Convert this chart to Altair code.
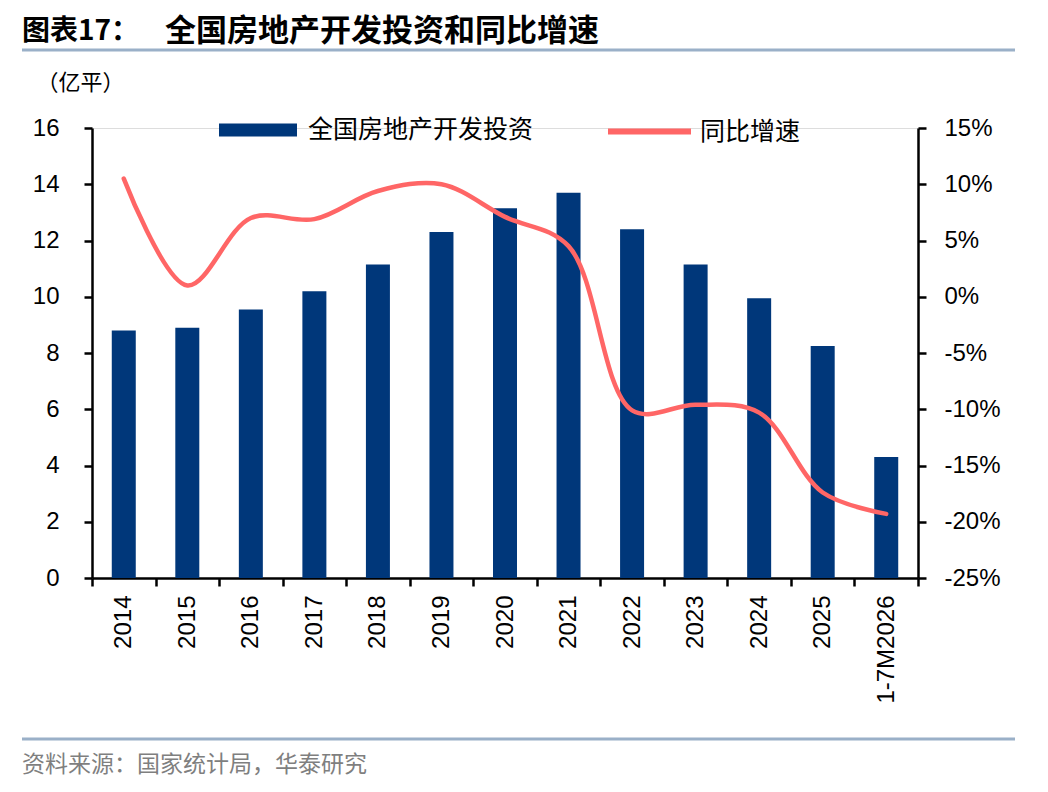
import altair as alt
import pandas as pd

categories = ["2014", "2015", "2016", "2017", "2018", "2019", "2020",
              "2021", "2022", "2023", "2024", "2025", "1-7M2026"]
investment = [8.8, 8.9, 9.55, 10.2, 11.15, 12.3, 13.15, 13.7, 12.4, 11.15, 9.95, 8.25, 4.3]
growth = [10.5, 1.0, 7.0, 6.9, 9.4, 10.0, 7.1, 4.5, -10.1, -9.6, -10.3, -17.4, -19.3]
bar_name = "全国房地产开发投资"
line_name = "同比增速"
left_ticks = [0, 2, 4, 6, 8, 10, 12, 14, 16]
right_ticks = [-25, -20, -15, -10, -5, 0, 5, 10, 15]

NAVY = "#00377A"
RED = "#FF6666"
CJK = "Noto Sans CJK SC"
LAT = "Liberation Sans"

bars_df = pd.DataFrame({"cat": categories, "val": investment, "series": bar_name})
line_df = pd.DataFrame({"cat": categories, "val": growth, "series": line_name})

x_enc = alt.X(
    "cat:N", sort=categories,
    scale=alt.Scale(paddingInner=0, paddingOuter=0),
    axis=alt.Axis(title=None, labelAngle=270, tickBand="extent", tickSize=8,
                  labelPadding=9, labelFont=LAT, labelFontSize=24,
                  labelColor="black", domainColor="black", tickColor="black",
                  domainWidth=2.5, tickWidth=2.5, grid=False),
)

bars = alt.Chart(bars_df).mark_bar(size=24).encode(
    x=x_enc,
    y=alt.Y("val:Q", scale=alt.Scale(domain=[0, 16], nice=False),
            axis=alt.Axis(title="（亿平）", titleAngle=0, titleX=-56, titleY=-46,
                          titleAlign="left", titleBaseline="middle", titleFont=CJK,
                          titleFontSize=22, titleFontWeight="normal", titleColor="black",
                          values=left_ticks, grid=False, tickSize=8, labelPadding=25,
                          labelFont=LAT, labelFontSize=24, labelColor="black",
                          domainColor="black", tickColor="black",
                          domainWidth=2.5, tickWidth=2.5)),
    color=alt.Color("series:N", scale=alt.Scale(domain=[bar_name], range=[NAVY]),
                    legend=alt.Legend(orient="none", legendX=127, legendY=-37, title=None,
                                      symbolType="M-1,-0.167L1,-0.167L1,0.167L-1,0.167Z",
                                      symbolSize=6084, symbolStrokeWidth=0,
                                      labelFont=CJK, labelFontSize=25, labelColor="black",
                                      labelOffset=11, labelLimit=600, padding=0)),
)

line = alt.Chart(line_df).mark_line(strokeWidth=4.5, interpolate="catmull-rom",
                                    strokeCap="round").encode(
    x=x_enc,
    y=alt.Y("val:Q", scale=alt.Scale(domain=[-25, 15], nice=False),
            axis=alt.Axis(title=None, orient="right", values=right_ticks, grid=False,
                          labelExpr="datum.value + '%'", tickSize=8, labelPadding=18,
                          labelFont=LAT, labelFontSize=24, labelColor="black",
                          domainColor="black", tickColor="black",
                          domainWidth=2.5, tickWidth=2.5)),
    color=alt.Color("series:N", scale=alt.Scale(domain=[line_name], range=[RED]),
                    legend=alt.Legend(orient="none", legendX=513, legendY=-41, title=None,
                                      symbolType="stroke", symbolSize=6889,
                                      symbolStrokeWidth=6,
                                      labelFont=CJK, labelFontSize=25, labelColor="black",
                                      labelOffset=6, labelLimit=600, padding=0)),
)

one = alt.Data(values=[{"k": 1}])

title1 = alt.Chart(one).mark_text(text="图表17：", font=CJK, fontSize=28, fontWeight="bold",
                                  align="left", baseline="middle", color="black").encode(
    x=alt.value(-70), y=alt.value(-96))
title2 = alt.Chart(one).mark_text(text="全国房地产开发投资和同比增速", font=CJK, fontSize=31,
                                  fontWeight="bold", align="left", baseline="middle",
                                  color="black").encode(
    x=alt.value(73), y=alt.value(-96))
source = alt.Chart(one).mark_text(text="资料来源：国家统计局，华泰研究", font=CJK, fontSize=23,
                                  align="left", baseline="middle", color="#7F7F7F").encode(
    x=alt.value(-70), y=alt.value(637))
rule_top = alt.Chart(one).mark_rule(color="#9AB0C8", strokeWidth=3).encode(
    x=alt.value(-70), x2=alt.value(923), y=alt.value(-78))
rule_bot = alt.Chart(one).mark_rule(color="#9AB0C8", strokeWidth=3).encode(
    x=alt.value(-70), x2=alt.value(923), y=alt.value(611))

chart = alt.layer(bars, line, title1, title2, source, rule_top, rule_bot).resolve_scale(
    y="independent", color="independent"
).properties(
    width=826, height=450,
    autosize=alt.AutoSizeParams(type="none"),
    padding={"left": 84, "top": 120, "right": 122, "bottom": 200},
).configure_view(stroke=None).configure(background="white")

chart.save("out.html", embed_options={"renderer": "svg", "actions": False})
